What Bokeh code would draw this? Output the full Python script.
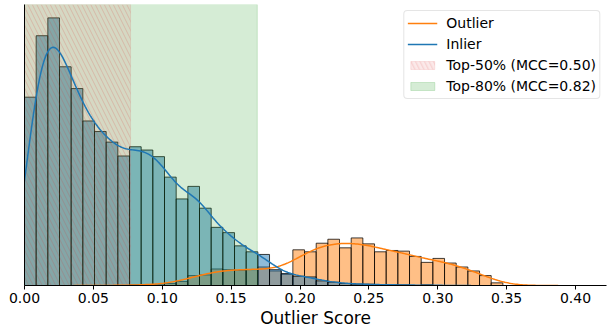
import numpy as np
from bokeh.plotting import figure
from bokeh.models import Legend, LegendItem, Range1d, FixedTicker, NumeralTickFormatter
from bokeh.embed import file_html
from bokeh.resources import INLINE

# Histogram bins (shared by both groups)
bin_start = 0.0
bin_width = 0.00847

# Counts per bin, read left to right
inlier_counts = [285, 378, 405, 331, 298, 249, 233, 217, 196, 210,
                 205, 195, 164, 131, 150, 117, 88, 80, 60, 51,
                 47, 24, 18, 14, 13, 7, 5, 3, 2, 2,
                 1, 1, 1, 0, 1, 0, 0, 0, 0, 0, 0]
outlier_counts = [0, 0, 0, 0, 0, 0, 0, 0, 0, 1,
                  1, 1, 3, 6, 15, 16, 25, 24, 23, 24,
                  28, 22, 17, 54, 51, 64, 70, 57, 72, 63,
                  51, 53, 52, 44, 35, 41, 34, 28, 22, 15, 4]

# Score thresholds for the two selection rules
thr_top50 = 0.077
thr_top80 = 0.169
mcc_top50 = 0.50
mcc_top80 = 0.82

x_ticks = [0.00, 0.05, 0.10, 0.15, 0.20, 0.25, 0.30, 0.35, 0.40]
x_max = 0.4225

BLUE = "#1f77b4"
ORANGE = "#ff7f0e"
GREEN = "#2ca02c"
RED = "#d62728"
FONT = "DejaVu Sans"

n_bins = len(inlier_counts)
left = bin_start + bin_width * np.arange(n_bins)
right = left + bin_width


def kde_from_bins(counts, cut=3.0):
    """Gaussian KDE (Scott bandwidth) of binned data, scaled to counts."""
    c = np.asarray(counts, dtype=float)
    centers = left + bin_width / 2
    n = c.sum()
    mu = (c * centers).sum() / n
    sd = np.sqrt((c * (centers - mu) ** 2).sum() / n)
    bw = sd * n ** (-0.2)
    nz = np.nonzero(c)[0]
    lo, hi = left[nz[0]], right[nz[-1]]
    grid = np.linspace(lo - cut * bw, hi + cut * bw, 300)
    k = np.exp(-0.5 * ((grid[:, None] - centers[None, :]) / bw) ** 2)
    dens = (k * c[None, :]).sum(axis=1) / (n * bw * np.sqrt(2 * np.pi))
    return grid, dens * n * bin_width


y_top = 1.05 * max(max(inlier_counts), max(outlier_counts))

p = figure(width=607, height=330, output_backend="svg", toolbar_location=None,
           x_range=Range1d(0, x_max), y_range=Range1d(0, y_top),
           min_border_left=24, min_border_right=1, min_border_top=4,
           min_border_bottom=43)
p.outline_line_color = None
p.xgrid.visible = False
p.ygrid.visible = False
p.background_fill_color = "white"


def bars(counts, color):
    c = np.asarray(counts, dtype=float)
    m = c > 0
    return p.quad(left=left[m], right=right[m], bottom=0, top=c[m],
                  fill_color=color, fill_alpha=0.5,
                  line_color="black", line_alpha=0.75, line_width=1)


bars(outlier_counts, ORANGE)
bars(inlier_counts, BLUE)

# Shaded score ranges
span80 = p.quad(left=[0], right=[thr_top80], bottom=[0], top=[y_top],
                fill_color=GREEN, fill_alpha=0.2,
                line_color=GREEN, line_alpha=0.2, line_width=1)
span50 = p.quad(left=[0], right=[thr_top50], bottom=[0], top=[y_top],
                fill_color=RED, fill_alpha=0.1,
                line_color=RED, line_alpha=0.1, line_width=1,
                hatch_pattern="\\", hatch_color=RED, hatch_alpha=0.18,
                hatch_scale=9, hatch_weight=1)

# Density curves
gx_o, gy_o = kde_from_bins(outlier_counts)
gx_i, gy_i = kde_from_bins(inlier_counts)
line_o = p.line(gx_o, gy_o, line_color=ORANGE, line_width=1.5)
line_i = p.line(gx_i, gy_i, line_color=BLUE, line_width=1.5)

# Axes
xa = p.xaxis[0]
xa.ticker = FixedTicker(ticks=x_ticks)
xa.formatter = NumeralTickFormatter(format="0.00")
xa.axis_label = "Outlier Score"
xa.axis_label_text_font = FONT
xa.axis_label_text_font_size = "17px"
xa.axis_label_text_font_style = "normal"
xa.axis_label_text_color = "black"
xa.axis_label_standoff = 2
xa.major_label_text_font = FONT
xa.major_label_text_font_size = "14px"
xa.major_label_text_color = "black"
xa.major_label_standoff = 3
xa.major_tick_in = 0
xa.major_tick_out = 4
xa.minor_tick_line_color = None
xa.axis_line_color = "black"
xa.major_tick_line_color = "black"

# Left spine only: no ticks, no labels
ya = p.yaxis[0]
ya.ticker = FixedTicker(ticks=[])
ya.major_tick_line_color = None
ya.minor_tick_line_color = None
ya.axis_line_color = "black"

legend = Legend(items=[
    LegendItem(label="Outlier", renderers=[line_o]),
    LegendItem(label="Inlier", renderers=[line_i]),
    LegendItem(label=f"Top-50% (MCC={mcc_top50:.2f})", renderers=[span50]),
    LegendItem(label=f"Top-80% (MCC={mcc_top80:.2f})", renderers=[span80]),
], location="top_right")
legend.margin = 6
legend.padding = 3
legend.spacing = 3
legend.label_height = 18
legend.glyph_height = 10
legend.glyph_width = 30
legend.label_standoff = 9
legend.label_text_font = FONT
legend.label_text_font_size = "14px"
legend.label_text_color = "black"
legend.border_line_color = "#cccccc"
legend.border_line_width = 1
legend.background_fill_alpha = 0.8
if "border_radius" in Legend.properties():
    legend.border_radius = 4
p.add_layout(legend)

open("out.html", "w").write(file_html(p, INLINE))
